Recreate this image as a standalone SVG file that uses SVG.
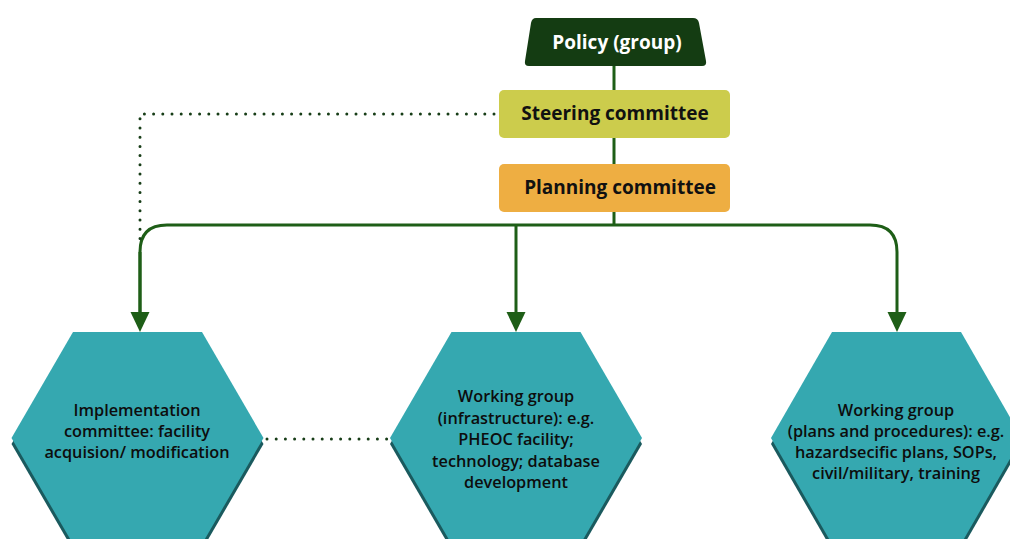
<svg xmlns="http://www.w3.org/2000/svg" width="1010" height="539" viewBox="0 0 1010 539">
  <defs>
    <style>
      .flow { fill: none; stroke: #1e5e17; stroke-width: 3; }
      .dots { fill: none; stroke: #173d17; stroke-width: 3; stroke-linecap: round; stroke-dasharray: 0 9.2; }
      .hex { fill: #35a8b0; }
      .hex-shadow { fill: #1a5a5e; }
      .box-label { font-family: "Open Sans", "Liberation Sans", sans-serif; font-weight: 700; font-size: 19px; text-anchor: middle; }
      .hex-label { font-family: "Open Sans", "Liberation Sans", sans-serif; font-weight: 600; font-size: 16.3px; text-anchor: middle; fill: #0d0d0d; }
    </style>
    <marker id="arrow" viewBox="0 0 20 20" markerWidth="20" markerHeight="20" refX="0" refY="10" orient="auto" markerUnits="userSpaceOnUse">
      <path d="M0,0.5 L20,10 L0,19.5 z" fill="#1e5e17"/>
    </marker>
  </defs>

  <rect width="1010" height="539" fill="#ffffff"/>

  <!-- connectors -->
  <g id="connectors">
    <path class="flow" d="M614,66 V90"/>
    <path class="flow" d="M614,138 V164"/>
    <path class="flow" d="M614,212 V225"/>
    <path class="flow" d="M140,312 V252 Q140,225 167,225 H870 Q897,225 897,252 V312" marker-end="url(#arrow)"/>
    <path class="flow" d="M140,252 V312" marker-end="url(#arrow)"/>
    <path class="flow" d="M516,225 V312" marker-end="url(#arrow)"/>
    <path class="dots" d="M494,114 H140 V240"/>
    <path class="dots" d="M267,439 H387"/>
  </g>

  <!-- top of the hierarchy -->
  <g id="policy">
    <path d="M536,18 H693 Q698,18 699,23 L706,61 Q707,66 702,66 H529 Q524,66 525,61 L531,23 Q532,18 536,18 z" fill="#143c12"/>
    <text class="box-label" x="617" y="49" font-size="20" fill="#ffffff">Policy (group)</text>
  </g>

  <g id="steering">
    <rect x="499" y="90" width="231" height="48" rx="5" fill="#cccc4c"/>
    <text class="box-label" x="615" y="120" fill="#111">Steering committee</text>
  </g>

  <g id="planning">
    <rect x="499" y="164" width="231" height="48" rx="5" fill="#eeae42"/>
    <text class="box-label" x="620" y="194" fill="#111">Planning committee</text>
  </g>

  <!-- working bodies -->
  <g id="implementation">
    <polygon class="hex-shadow" points="73,338 202,338 263.5,444 202,550 73,550 11.5,444"/>
    <polygon class="hex" points="73,332 202,332 263.5,438 202,544 73,544 11.5,438"/>
    <text class="hex-label" x="137" y="416">Implementation</text>
    <text class="hex-label" x="137" y="437">committee: facility</text>
    <text class="hex-label" x="137" y="458">acquision/ modification</text>
  </g>

  <g id="infrastructure">
    <polygon class="hex-shadow" points="451.5,338 580.5,338 642,444 580.5,550 451.5,550 390,444"/>
    <polygon class="hex" points="451.5,332 580.5,332 642,438 580.5,544 451.5,544 390,438"/>
    <text class="hex-label" x="516" y="402">Working group</text>
    <text class="hex-label" x="516" y="423.5">(infrastructure): e.g.</text>
    <text class="hex-label" x="516" y="445">PHEOC facility;</text>
    <text class="hex-label" x="516" y="466.5">technology; database</text>
    <text class="hex-label" x="516" y="488">development</text>
  </g>

  <g id="plans">
    <polygon class="hex-shadow" points="832,338 961,338 1022,444 961,550 832,550 771,444"/>
    <polygon class="hex" points="832,332 961,332 1022,438 961,544 832,544 771,438"/>
    <text class="hex-label" x="896" y="416">Working group</text>
    <text class="hex-label" x="896" y="437">(plans and procedures): e.g.</text>
    <text class="hex-label" x="896" y="458">hazardsecific plans, SOPs,</text>
    <text class="hex-label" x="896" y="479">civil/military, training</text>
  </g>
</svg>
